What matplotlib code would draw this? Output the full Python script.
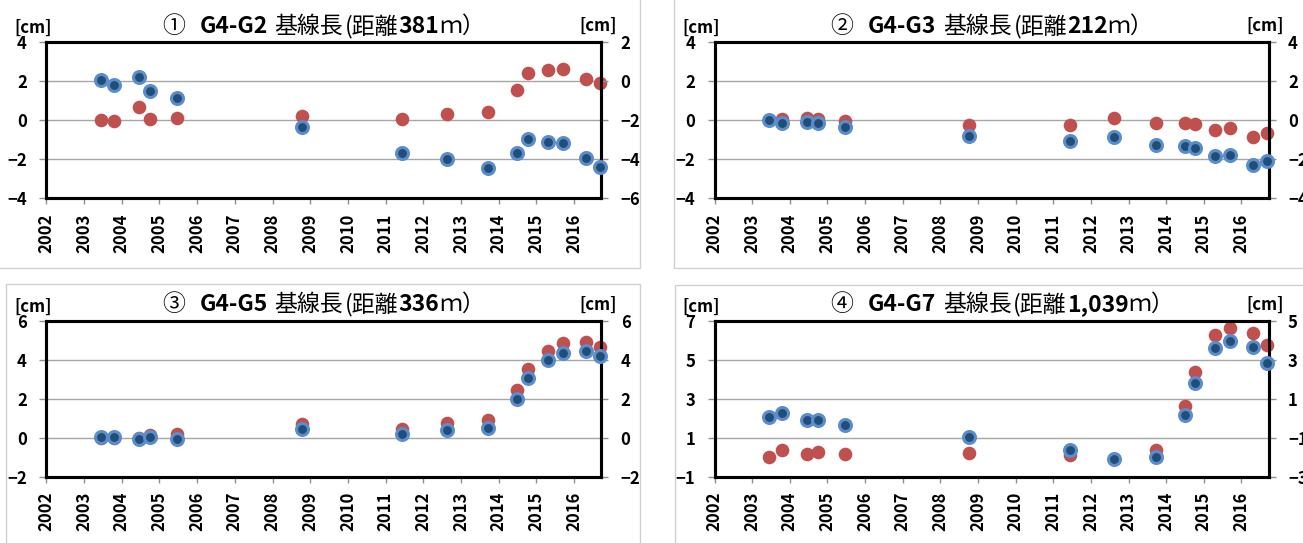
import numpy as np
import matplotlib
matplotlib.use("Agg")
import matplotlib.pyplot as plt
from matplotlib.patches import Rectangle

plt.rcParams['font.family'] = ['Noto Sans CJK JP', 'DejaVu Sans']
plt.rcParams['font.weight'] = 'bold'

# observation dates (decimal year), shared by all four baselines
dates = [2003.44, 2003.79, 2004.45, 2004.76, 2005.47, 2008.77, 2011.44, 2012.62,
         2013.72, 2014.49, 2014.77, 2015.31, 2015.70, 2016.31, 2016.69]
years = list(range(2002, 2017))

# title pieces: (number mark, station pair, distance)
marks = ['①', '②', '③', '④']
pairs = ['G4-G2', 'G4-G3', 'G4-G5', 'G4-G7']
dists = ['381', '212', '336', '1,039']

# red series -> left axis, blue series -> right axis  [cm]
red_g2 = [0.0, -0.03, 0.70, 0.08, 0.10, 0.22, 0.07, 0.32, 0.41, 1.54, 2.43, 2.56, 2.62, 2.14, 1.93]
blue_g2 = [0.05, -0.21, 0.24, -0.48, -0.84, -2.32, -3.69, -4.00, -4.43, -3.68, -2.97, -3.11, -3.18, -3.93, -4.39]

red_g3 = [0.0, 0.05, 0.14, 0.09, -0.03, -0.26, -0.24, 0.14, -0.12, -0.12, -0.17, -0.48, -0.41, -0.88, -0.65]
blue_g3 = [0.03, -0.14, -0.07, -0.14, -0.34, -0.82, -1.08, -0.88, -1.27, -1.32, -1.42, -1.84, -1.77, -2.30, -2.08]

red_g5 = [0.0, 0.0, -0.03, 0.14, 0.19, 0.68, 0.44, 0.77, 0.90, 2.44, 3.50, 4.46, 4.84, 4.90, 4.63]
blue_g5 = [0.02, 0.02, -0.07, 0.05, -0.07, 0.43, 0.17, 0.41, 0.50, 2.00, 3.08, 3.97, 4.36, 4.43, 4.17]

red_g7 = [0.03, 0.35, 0.18, 0.25, 0.18, 0.23, 0.09, -0.09, 0.35, 2.61, 4.35, 6.25, 6.64, 6.38, 5.75]
blue_g7 = [0.06, 0.26, -0.08, -0.08, -0.33, -0.95, -1.63, -2.09, -1.97, 0.16, 1.82, 3.60, 3.94, 3.63, 2.85]

left_ticks = [[-4, -2, 0, 2, 4], [-4, -2, 0, 2, 4], [-2, 0, 2, 4, 6], [-1, 1, 3, 5, 7]]
right_ticks = [[-6, -4, -2, 0, 2], [-4, -2, 0, 2, 4], [-2, 0, 2, 4, 6], [-3, -1, 1, 3, 5]]

RED = '#C0504D'
BLUE_FACE = '#1F4E79'
BLUE_EDGE = '#5B8CCB'

W, H = 1303, 543
fig = plt.figure(figsize=(W / 100, H / 100), dpi=100)
renderer = fig.canvas.get_renderer()

# light panel outlines (pixel boxes: x0, y0, x1, y1 from top-left)
for x0, y0, x1, y1 in [(-2, -2, 640, 268), (674, -2, 1305, 268),
                       (6, 284, 640, 545), (675, 285, 1305, 545)]:
    fig.add_artist(Rectangle((x0 / W, 1 - y1 / H), (x1 - x0) / W, (y1 - y0) / H,
                             transform=fig.transFigure, fill=False,
                             edgecolor='#D0D0D0', lw=1))

# plot areas in pixels: left, right, top, bottom
boxes = [(46.4, 601.2, 42.3, 198.3), (714.6, 1268.5, 42.3, 198.3),
         (46.4, 601.2, 320.7, 476.7), (714.6, 1268.5, 320.7, 476.7)]
reds = [red_g2, red_g3, red_g5, red_g7]
blues = [blue_g2, blue_g3, blue_g5, blue_g7]


def title_row(x, y, parts, size=16.5):
    # lay out mixed-weight pieces one after another (x, y in pixels from top-left)
    for txt, weight, gap in parts:
        t = fig.text(x / W, 1 - y / H, txt, ha='left', va='center',
                     fontsize=size, fontweight=weight)
        x = t.get_window_extent(renderer).x1 + gap


for i in range(4):
    l, r, t, b = boxes[i]
    ax = fig.add_axes([l / W, 1 - b / H, (r - l) / W, (b - t) / H])
    ax.set_xlim(2002, 2016.72)
    ax.set_ylim(left_ticks[i][0], left_ticks[i][-1])
    ax.set_yticks(left_ticks[i])
    ax.set_xticks(years)
    ax.set_xticklabels([str(y) for y in years], rotation=90)
    ax.grid(axis='y', color='#A6A6A6', lw=1)
    ax.set_axisbelow(True)
    ax.tick_params(axis='y', length=5, width=1, color='#909090', pad=9, labelsize=12)
    ax.tick_params(axis='x', length=4, width=1, color='#909090', pad=7, labelsize=12)
    ax.plot(dates, reds[i], 'o', ms=9.8, color=RED, mec='none', clip_on=False, zorder=3)

    ax2 = ax.twinx()
    ax2.set_ylim(right_ticks[i][0], right_ticks[i][-1])
    ax2.set_yticks(right_ticks[i])
    ax2.tick_params(axis='y', length=5, width=1, color='#909090', pad=9, labelsize=12)
    ax2.plot(dates, blues[i], 'o', ms=8.6, mfc=BLUE_FACE, mec=BLUE_EDGE, mew=2.2,
             clip_on=False, zorder=3)

    for a in (ax, ax2):
        for s in a.spines.values():
            s.set_linewidth(2.2)
            s.set_color('black')

    title_row(l + 116, t - 16, [(marks[i], 'normal', 14),
                                (pairs[i], 'bold', 7),
                                ('基線長', 'normal', 2),
                                ('(距離', 'normal', 0),
                                (dists[i], 'bold', 0),
                                ('ｍ）', 'normal', 0)])
    fig.text((l - 13) / W, 1 - (t - 14) / H, '[cm]', ha='center', va='center', fontsize=12)
    fig.text((r - 3) / W, 1 - (t - 16) / H, '[cm]', ha='center', va='center', fontsize=12)

fig.savefig('out.png', dpi=100)
